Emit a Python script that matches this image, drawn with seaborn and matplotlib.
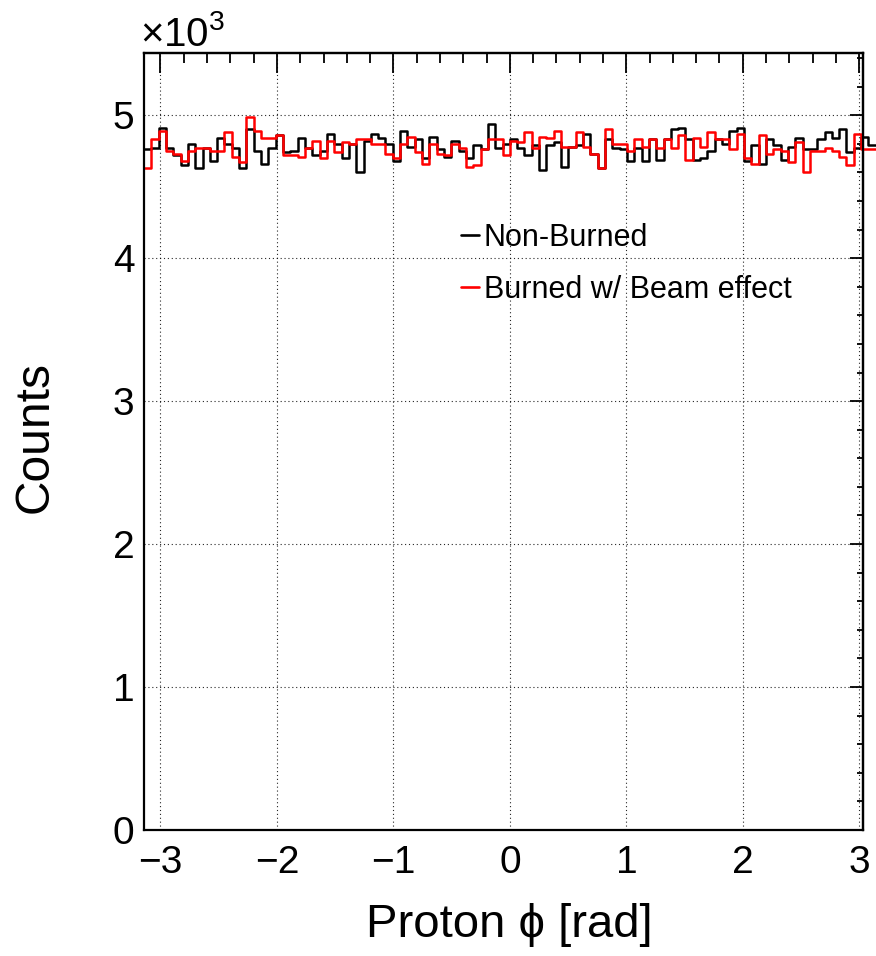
import numpy as np
import pandas as pd
import matplotlib
matplotlib.use("Agg")
import matplotlib.pyplot as plt
from matplotlib.lines import Line2D
from matplotlib.ticker import MultipleLocator, FixedLocator, NullFormatter
import seaborn as sns

# Proton azimuthal angle distributions, 100 bins over [-pi, pi] (counts per bin)
n_bins = 100
non_burned = [
    4760, 4770, 4910, 4770, 4720, 4650, 4800, 4630, 4770, 4680,
    4840, 4800, 4770, 4630, 4900, 4750, 4660, 4770, 4860, 4740,
    4750, 4840, 4770, 4720, 4750, 4870, 4800, 4700, 4800, 4600,
    4820, 4870, 4840, 4800, 4680, 4890, 4780, 4830, 4700, 4850,
    4760, 4710, 4820, 4750, 4700, 4790, 4760, 4940, 4770, 4800,
    4830, 4770, 4720, 4790, 4620, 4790, 4810, 4640, 4780, 4790,
    4870, 4730, 4630, 4830, 4770, 4760, 4680, 4770, 4680, 4830,
    4690, 4830, 4900, 4910, 4830, 4690, 4700, 4750, 4830, 4800,
    4890, 4910, 4680, 4790, 4660, 4830, 4790, 4690, 4780, 4840,
    4760, 4760, 4830, 4880, 4840, 4900, 4740, 4770, 4850, 4790,
]
burned_beam = [
    4630, 4830, 4890, 4750, 4730, 4680, 4750, 4770, 4770, 4750,
    4750, 4880, 4710, 4670, 4990, 4890, 4840, 4840, 4860, 4720,
    4720, 4710, 4770, 4820, 4700, 4820, 4740, 4810, 4800, 4830,
    4830, 4800, 4800, 4730, 4700, 4800, 4850, 4740, 4660, 4800,
    4730, 4720, 4800, 4770, 4640, 4650, 4760, 4830, 4830, 4720,
    4820, 4810, 4880, 4770, 4850, 4840, 4890, 4780, 4780, 4880,
    4780, 4730, 4630, 4900, 4800, 4800, 4750, 4830, 4780, 4830,
    4770, 4830, 4770, 4860, 4690, 4840, 4780, 4880, 4830, 4830,
    4760, 4870, 4700, 4660, 4860, 4730, 4760, 4750, 4670, 4810,
    4600, 4750, 4750, 4770, 4750, 4710, 4650, 4870, 4760, 4760,
]
series_labels = ["Non-Burned", "Burned w/ Beam effect"]
series_colors = ["black", "red"]
x_ticks = [-3, -2, -1, 0, 1, 2, 3]
y_ticks = [0, 1, 2, 3, 4, 5]

sns.set_theme(style="white")
plt.rcParams["font.family"] = ["Liberation Sans", "DejaVu Sans"]
plt.rcParams["axes.unicode_minus"] = True
plt.rcParams["text.color"] = "black"

edges = np.linspace(-np.pi, np.pi, n_bins + 1)

W, H = 876, 956
fig = plt.figure(figsize=(W / 100, H / 100), dpi=100)
left, right, top, bottom = 144, 862.5, 53, 830
ax = fig.add_axes([left / W, 1 - bottom / H, (right - left) / W, (bottom - top) / H])

# histogram outlines (values shown in units of 10^3); the last bins run past the frame
for vals, col in zip([non_burned, burned_beam], series_colors):
    v = np.asarray(vals, float) / 1000.0
    df = pd.DataFrame({"phi": edges, "counts": np.append(v, v[-1])})
    sns.lineplot(data=df, x="phi", y="counts", drawstyle="steps-post",
                 estimator=None, sort=False, color=col, linewidth=1.8, ax=ax)
    ax.lines[-1].set_clip_on(False)

ax.set_xlim(-np.pi, 3.028)
ax.set_ylim(0, 5.435)
ax.xaxis.set_major_locator(FixedLocator(x_ticks))
ax.yaxis.set_major_locator(FixedLocator(y_ticks))
ax.xaxis.set_minor_locator(MultipleLocator(0.2))
ax.yaxis.set_minor_locator(MultipleLocator(0.2))
ax.set_xticklabels([f"{t:d}".replace("-", "\u2212") for t in x_ticks])
ax.set_yticklabels([f"{t:d}" for t in y_ticks])

ax.tick_params(which="both", direction="in", colors="black", width=1.3,
               labelsize=28)
ax.tick_params(which="major", length=17)
ax.tick_params(which="minor", length=8.5)
ax.tick_params(axis="x", which="major", pad=11)
ax.tick_params(axis="y", which="major", pad=7)

# opposite-side ticks, shorter as in the frame style
sec_x = ax.secondary_xaxis("top")
sec_x.xaxis.set_major_locator(FixedLocator(x_ticks))
sec_x.xaxis.set_minor_locator(MultipleLocator(0.2))
sec_x.xaxis.set_major_formatter(NullFormatter())
sec_x.tick_params(which="both", direction="in", width=1.3, colors="black")
sec_x.tick_params(which="major", length=14.4)
sec_x.tick_params(which="minor", length=7.2)
sec_y = ax.secondary_yaxis("right")
sec_y.yaxis.set_major_locator(FixedLocator(y_ticks))
sec_y.yaxis.set_minor_locator(MultipleLocator(0.2))
sec_y.yaxis.set_major_formatter(NullFormatter())
sec_y.tick_params(which="both", direction="in", width=1.3, colors="black")
sec_y.tick_params(which="major", length=9.4)
sec_y.tick_params(which="minor", length=4.5)
for sec in (sec_x, sec_y):
    for sp in sec.spines.values():
        sp.set_linewidth(1.6)
        sp.set_color("black")

ax.grid(True, which="major", linestyle=(0, (1, 2.5)), color="black",
        linewidth=0.8, alpha=0.85)
ax.set_axisbelow(True)
for sp in ax.spines.values():
    sp.set_color("black")
    sp.set_linewidth(1.6)

ax.set_xlabel("Proton \u03d5 [rad]", fontsize=34, color="black")
ax.set_ylabel("Counts", fontsize=34.5, color="black")
ax.xaxis.label.set_va("center")
ax.yaxis.label.set_va("center")
ax.xaxis.set_label_coords((509 - left) / (right - left), (bottom - 925) / (bottom - top))
ax.yaxis.set_label_coords((35 - left) / (right - left), (bottom - 437) / (bottom - top))

handles = [Line2D([], [], color=c, linewidth=1.9) for c in series_colors]
leg = ax.legend(handles, series_labels, loc="upper left",
                bbox_to_anchor=((461 - left) / (right - left), (bottom - 223) / (bottom - top)),
                frameon=False, fontsize=22, handlelength=0.6, handletextpad=0.15,
                labelspacing=0.72, borderpad=0, borderaxespad=0)
for t in leg.get_texts():
    t.set_color("black")

fig.text(140 / W, 1 - 46 / H, r"$\mathregular{\times10^{3}}$", fontsize=29,
         ha="left", va="baseline", color="black")

fig.savefig("out.png", dpi=100, facecolor="white")
